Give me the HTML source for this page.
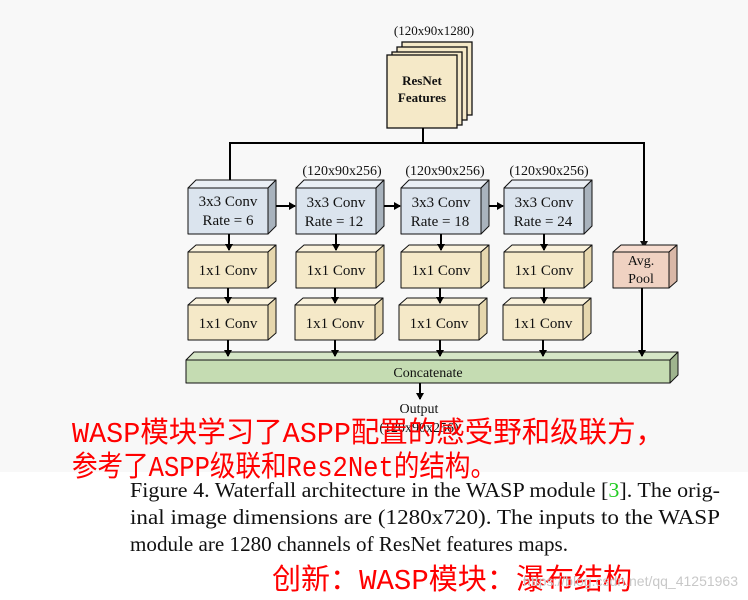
<!DOCTYPE html>
<html><head><meta charset="utf-8"><style>
html,body{margin:0;padding:0;background:#fff;}
svg{display:block;}
</style></head><body>
<svg width="748" height="600" viewBox="0 0 748 600" xmlns="http://www.w3.org/2000/svg">
<defs>
<marker id="a" markerWidth="8" markerHeight="8" refX="6" refY="4" orient="auto" markerUnits="userSpaceOnUse">
<path d="M0,0 L7,4 L0,8 Z" fill="#000"/></marker>
</defs>
<rect x="0" y="0" width="748" height="472" fill="#f8f8f8"/>
<g font-family="'Liberation Serif',serif" fill="#111">
<text x="434" y="35" font-size="13" text-anchor="middle">(120x90x1280)</text>
<rect x="402" y="42" width="70" height="73" fill="#f5e9c8" stroke="#111" stroke-width="1.3"/>
<rect x="397" y="47" width="70" height="73" fill="#f5e9c8" stroke="#111" stroke-width="1.3"/>
<rect x="392" y="52" width="70" height="73" fill="#f5e9c8" stroke="#111" stroke-width="1.3"/>
<rect x="387" y="55" width="70" height="73" fill="#f5e9c8" stroke="#111" stroke-width="1.3"/>
<text x="422" y="85" font-size="13" font-weight="bold" text-anchor="middle">ResNet</text>
<text x="422" y="102" font-size="13" font-weight="bold" text-anchor="middle">Features</text>
<g stroke="#000" stroke-width="2" fill="none">
<line x1="423" y1="128" x2="423" y2="143"/>
<polyline points="230,187 230,143 644,143 644,247" />
</g>
<path d="M226,181 L234,181 L230,188 Z"/>
<path d="M640,241 L648,241 L644,248 Z"/>
<text x="342" y="175" font-size="14" text-anchor="middle">(120x90x256)</text>
<text x="445" y="175" font-size="14" text-anchor="middle">(120x90x256)</text>
<text x="549" y="175" font-size="14" text-anchor="middle">(120x90x256)</text>
</g>
<g font-family="'Liberation Serif',serif" font-size="15" fill="#111" text-anchor="middle" stroke-linejoin="round">
<g>
<path d="M188,188 L196,180 L276,180 L268,188 Z" fill="#eaeff5" stroke="#111"/>
<path d="M268,188 L276,180 L276,226 L268,234 Z" fill="#a9b3bd" stroke="#111"/>
<rect x="188" y="188" width="80" height="46" fill="#dbe4ee" stroke="#111"/>
<text x="228" y="206">3x3 Conv</text><text x="228" y="225">Rate = 6</text>
</g>
<g>
<path d="M296,188 L304,180 L384,180 L376,188 Z" fill="#eaeff5" stroke="#111"/>
<path d="M376,188 L384,180 L384,226 L376,234 Z" fill="#a9b3bd" stroke="#111"/>
<rect x="296" y="188" width="80" height="46" fill="#dbe4ee" stroke="#111"/>
<text x="336" y="207">3x3 Conv</text><text x="334" y="226">Rate = 12</text>
</g>
<g>
<path d="M401,188 L409,180 L489,180 L481,188 Z" fill="#eaeff5" stroke="#111"/>
<path d="M481,188 L489,180 L489,226 L481,234 Z" fill="#a9b3bd" stroke="#111"/>
<rect x="401" y="188" width="80" height="46" fill="#dbe4ee" stroke="#111"/>
<text x="441" y="207">3x3 Conv</text><text x="440" y="226">Rate = 18</text>
</g>
<g>
<path d="M504,188 L512,180 L592,180 L584,188 Z" fill="#eaeff5" stroke="#111"/>
<path d="M584,188 L592,180 L592,226 L584,234 Z" fill="#a9b3bd" stroke="#111"/>
<rect x="504" y="188" width="80" height="46" fill="#dbe4ee" stroke="#111"/>
<text x="544" y="207">3x3 Conv</text><text x="543" y="226">Rate = 24</text>
</g>
<g fill="#f5e9c8" stroke="#111">
<path d="M188,252 L196,245 L276,245 L268,252 Z" fill="#faf2dc"/><path d="M268,252 L276,245 L276,281 L268,288 Z" fill="#e6d7ae"/><rect x="188" y="252" width="80" height="36"/>
<path d="M296,252 L304,245 L384,245 L376,252 Z" fill="#faf2dc"/><path d="M376,252 L384,245 L384,281 L376,288 Z" fill="#e6d7ae"/><rect x="296" y="252" width="80" height="36"/>
<path d="M401,252 L409,245 L489,245 L481,252 Z" fill="#faf2dc"/><path d="M481,252 L489,245 L489,281 L481,288 Z" fill="#e6d7ae"/><rect x="401" y="252" width="80" height="36"/>
<path d="M504,252 L512,245 L592,245 L584,252 Z" fill="#faf2dc"/><path d="M584,252 L592,245 L592,281 L584,288 Z" fill="#e6d7ae"/><rect x="504" y="252" width="80" height="36"/>
<path d="M188,305 L196,298 L276,298 L268,305 Z" fill="#faf2dc"/><path d="M268,305 L276,298 L276,333 L268,340 Z" fill="#e6d7ae"/><rect x="188" y="305" width="80" height="35"/>
<path d="M295,305 L303,298 L383,298 L375,305 Z" fill="#faf2dc"/><path d="M375,305 L383,298 L383,333 L375,340 Z" fill="#e6d7ae"/><rect x="295" y="305" width="80" height="35"/>
<path d="M399,305 L407,298 L487,298 L479,305 Z" fill="#faf2dc"/><path d="M479,305 L487,298 L487,333 L479,340 Z" fill="#e6d7ae"/><rect x="399" y="305" width="80" height="35"/>
<path d="M503,305 L511,298 L591,298 L583,305 Z" fill="#faf2dc"/><path d="M583,305 L591,298 L591,333 L583,340 Z" fill="#e6d7ae"/><rect x="503" y="305" width="80" height="35"/>
<path d="M613,252 L621,245 L677,245 L669,252 Z" fill="#f7ddd0"/><path d="M669,252 L677,245 L677,281 L669,288 Z" fill="#d9b8a8"/><rect x="613" y="252" width="56" height="36" fill="#f0d2c2"/>
<path d="M186,360 L194,352 L678,352 L670,360 Z" fill="#d5e6c6"/><path d="M670,360 L678,352 L678,375 L670,383 Z" fill="#9fb48e"/><rect x="186" y="360" width="484" height="23" fill="#c5dcb2"/>
</g>
<text x="228" y="275">1x1 Conv</text><text x="336" y="275">1x1 Conv</text><text x="441" y="275">1x1 Conv</text><text x="544" y="275">1x1 Conv</text>
<text x="228" y="328">1x1 Conv</text><text x="335" y="328">1x1 Conv</text><text x="439" y="328">1x1 Conv</text><text x="543" y="328">1x1 Conv</text>
<text x="641" y="265" font-size="14">Avg.</text><text x="641" y="283" font-size="14">Pool</text>
<text x="428" y="377" font-size="14">Concatenate</text>
</g>
<g stroke="#000" stroke-width="2" marker-end="url(#a)">
<line x1="276" y1="206" x2="295" y2="206"/>
<line x1="384" y1="206" x2="400" y2="206"/>
<line x1="489" y1="206" x2="503" y2="206"/>
<line x1="229" y1="234" x2="229" y2="250"/><line x1="336" y1="234" x2="336" y2="250"/><line x1="441" y1="234" x2="441" y2="250"/><line x1="544" y1="234" x2="544" y2="250"/>
<line x1="228" y1="288" x2="228" y2="303"/><line x1="335" y1="288" x2="335" y2="303"/><line x1="440" y1="288" x2="440" y2="303"/><line x1="544" y1="288" x2="544" y2="303"/>
<line x1="228" y1="340" x2="228" y2="356"/><line x1="335" y1="340" x2="335" y2="356"/><line x1="440" y1="340" x2="440" y2="356"/><line x1="543" y1="340" x2="543" y2="356"/>
<line x1="642" y1="288" x2="642" y2="356"/>
<line x1="420" y1="383" x2="420" y2="399"/>
</g>
<g font-family="'Liberation Serif',serif" fill="#111" text-anchor="middle">
<text x="419" y="413" font-size="14">Output</text>
<text x="419" y="432" font-size="14">(120x90x256)</text>
</g>
<g font-family="'Liberation Mono','WenQuanYi Zen Hei',monospace" fill="#ff0000" font-size="29">
<text x="72" y="442" textLength="592" lengthAdjust="spacingAndGlyphs">WASP模块学习了ASPP配置的感受野和级联方，</text>
<text x="72" y="476" textLength="424" lengthAdjust="spacingAndGlyphs">参考了ASPP级联和Res2Net的结构。</text>
<text x="272" y="589" textLength="360" lengthAdjust="spacingAndGlyphs">创新：WASP模块：瀑布结构</text>
</g>
<g font-family="'Liberation Serif',serif" fill="#111" font-size="21">
<text x="130" y="497" textLength="590" lengthAdjust="spacingAndGlyphs">Figure 4. Waterfall architecture in the WASP module [<tspan fill="#22cc22">3</tspan>]. The orig-</text>
<text x="130" y="524" textLength="590" lengthAdjust="spacingAndGlyphs">inal image dimensions are (1280x720).  The inputs to the WASP</text>
<text x="130" y="551" textLength="438" lengthAdjust="spacingAndGlyphs">module are 1280 channels of ResNet features maps.</text>
</g>
<text x="738" y="586" font-family="'Liberation Sans',sans-serif" font-size="14" fill="#c8c8c8" text-anchor="end">https://blog.csdn.net/qq_41251963</text>
</svg>
</body></html>
